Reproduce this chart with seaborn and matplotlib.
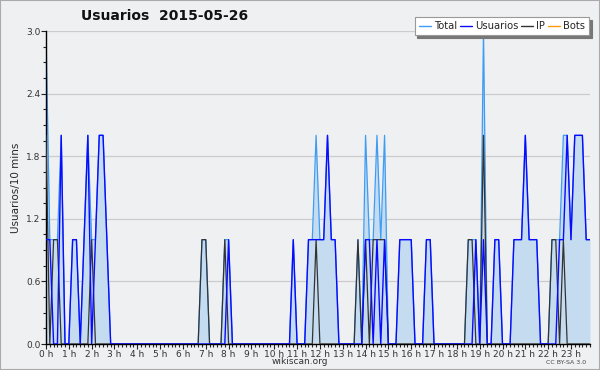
import numpy as np
import pandas as pd
import matplotlib
matplotlib.use('Agg')
import matplotlib.pyplot as plt
import seaborn as sns
from matplotlib.ticker import MultipleLocator, FormatStrFormatter
from matplotlib.lines import Line2D

# valores cada 10 minutos (144 por dia), 12 por fila = 2 horas
total = [3, 1, 1, 1, 2, 0, 0, 1, 1, 0, 1, 2,
         1, 1, 2, 2, 1, 0, 0, 0, 0, 0, 0, 0,
         0, 0, 0, 0, 0, 0, 0, 0, 0, 0, 0, 0,
         0, 0, 0, 0, 0, 1, 1, 0, 0, 0, 0, 1,
         1, 0, 0, 0, 0, 0, 0, 0, 0, 0, 0, 0,
         0, 0, 0, 0, 0, 1, 0, 0, 0, 1, 1, 2,
         1, 1, 2, 1, 1, 0, 0, 0, 0, 0, 1, 0,
         2, 1, 1, 2, 1, 2, 0, 0, 0, 1, 1, 1,
         1, 0, 0, 0, 1, 1, 0, 0, 0, 0, 0, 0,
         0, 0, 0, 1, 1, 1, 0, 3, 0, 0, 1, 1,
         0, 0, 0, 1, 1, 1, 2, 1, 1, 1, 0, 0,
         0, 1, 1, 1, 2, 2, 1, 2, 2, 2, 1, 1]
usuarios = [1, 1, 0, 0, 2, 0, 0, 1, 1, 0, 1, 2,
            0, 1, 2, 2, 1, 0, 0, 0, 0, 0, 0, 0,
            0, 0, 0, 0, 0, 0, 0, 0, 0, 0, 0, 0,
            0, 0, 0, 0, 0, 0, 0, 0, 0, 0, 0, 0,
            1, 0, 0, 0, 0, 0, 0, 0, 0, 0, 0, 0,
            0, 0, 0, 0, 0, 1, 0, 0, 0, 1, 1, 1,
            1, 1, 2, 1, 1, 0, 0, 0, 0, 0, 0, 0,
            1, 1, 0, 1, 0, 1, 0, 0, 0, 1, 1, 1,
            1, 0, 0, 0, 1, 1, 0, 0, 0, 0, 0, 0,
            0, 0, 0, 0, 0, 1, 0, 1, 0, 0, 1, 1,
            0, 0, 0, 1, 1, 1, 2, 1, 1, 1, 0, 0,
            0, 0, 0, 1, 1, 2, 1, 2, 2, 2, 1, 1]
ip = [2, 0, 1, 1, 0, 0, 0, 0, 0, 0, 0, 0,
      1, 0, 0, 0, 0, 0, 0, 0, 0, 0, 0, 0,
      0, 0, 0, 0, 0, 0, 0, 0, 0, 0, 0, 0,
      0, 0, 0, 0, 0, 1, 1, 0, 0, 0, 0, 1,
      0, 0, 0, 0, 0, 0, 0, 0, 0, 0, 0, 0,
      0, 0, 0, 0, 0, 0, 0, 0, 0, 0, 0, 1,
      0, 0, 0, 0, 0, 0, 0, 0, 0, 0, 1, 0,
      1, 0, 1, 1, 1, 1, 0, 0, 0, 0, 0, 0,
      0, 0, 0, 0, 0, 0, 0, 0, 0, 0, 0, 0,
      0, 0, 0, 1, 1, 0, 0, 2, 0, 0, 0, 0,
      0, 0, 0, 0, 0, 0, 0, 0, 0, 0, 0, 0,
      0, 1, 1, 0, 1, 0, 0, 0, 0, 0, 0, 0]
bots = [0] * 144

horas = np.arange(len(total)) / 6
df = pd.DataFrame({'hora': horas, 'Total': total, 'Usuarios': usuarios,
                   'IP': ip, 'Bots': bots})

colores = {'Total': '#3d9cf5', 'Usuarios': '#0a0aff', 'IP': '#333333', 'Bots': '#ff9900'}
fondo = '#eff0f2'

sns.set_style('white')
plt.rcParams['font.family'] = ['DejaVu Sans']

fig = plt.figure(figsize=(6, 3.7), dpi=100, facecolor=fondo)
ax = fig.add_axes([46 / 600, 1 - 344 / 370, 544 / 600, 313 / 370])
ax.set_facecolor(fondo)

ax.fill_between(df['hora'], df['Total'], color='#c5dcf0', lw=0, zorder=1)
sns.lineplot(data=df, x='hora', y='Total', color=colores['Total'], lw=0.9, ax=ax, zorder=2)
sns.lineplot(data=df, x='hora', y='IP', color=colores['IP'], lw=0.9, ax=ax, zorder=3)
sns.lineplot(data=df, x='hora', y='Usuarios', color=colores['Usuarios'], lw=1, ax=ax, zorder=4)
sns.lineplot(data=df, x='hora', y='Bots', color=colores['Bots'], lw=0.9, ax=ax, zorder=2)

ax.set_xlim(0, horas[-1])
ax.set_ylim(0, 3.0)
ax.yaxis.set_major_locator(MultipleLocator(0.6))
ax.yaxis.set_minor_locator(MultipleLocator(0.15))
ax.yaxis.set_major_formatter(FormatStrFormatter('%.1f'))
ax.set_xticks(range(24))
ax.set_xticklabels([f'{h} h' for h in range(24)])
ax.xaxis.set_minor_locator(MultipleLocator(1 / 6))
ax.tick_params(axis='both', which='major', labelsize=6.5, length=3.5, width=0.8,
               colors='#222222', labelcolor='#333333', pad=0.5, direction='out')
ax.tick_params(axis='both', which='minor', length=2.5, width=0.8, color='#222222')
ax.tick_params(axis='x', which='both', bottom=True)
ax.tick_params(axis='y', which='both', left=True)
ax.grid(axis='y', color='#cccccc', lw=0.9)
ax.set_axisbelow(True)
for s in ['top', 'right']:
    ax.spines[s].set_visible(False)
for s in ['left', 'bottom']:
    ax.spines[s].set_color('black')
    ax.spines[s].set_linewidth(1)
ax.set_xlabel('')
ax.set_ylabel('Usuarios/10 mins', fontsize=7.5, labelpad=4)

fig.text(165 / 600, 1 - 16 / 370, 'Usuarios  2015-05-26', ha='center', va='center',
         fontsize=10, fontweight='bold', color='#111111')

handles = [Line2D([], [], color=colores[k], lw=1) for k in ['Total', 'Usuarios', 'IP', 'Bots']]
leg = fig.legend(handles, ['Total', 'Usuarios', 'IP', 'Bots'], ncol=4,
                 loc='upper right', bbox_to_anchor=(589 / 600, 1 - 17 / 370),
                 fontsize=7.2, frameon=True, shadow={'color': '#777777', 'alpha': 1},
                 fancybox=False, handlelength=1.2, handletextpad=0.3,
                 columnspacing=0.3, borderpad=0.4, borderaxespad=0)
leg.get_frame().set_facecolor('white')
leg.get_frame().set_edgecolor('#999999')
leg.get_frame().set_linewidth(0.8)

fig.text(300 / 600, 1 - 362 / 370, 'wikiscan.org', ha='center', va='center',
         fontsize=6.5, color='#333333')
fig.text(566 / 600, 1 - 362 / 370, 'CC BY-SA 3.0', ha='center', va='center',
         fontsize=4.5, color='#444444')

fig.patches.append(plt.Rectangle((0, 0), 1, 1, transform=fig.transFigure,
                                 fill=False, edgecolor='#aaaaaa', lw=1.5))

fig.savefig('out.png', dpi=100, facecolor=fondo)
